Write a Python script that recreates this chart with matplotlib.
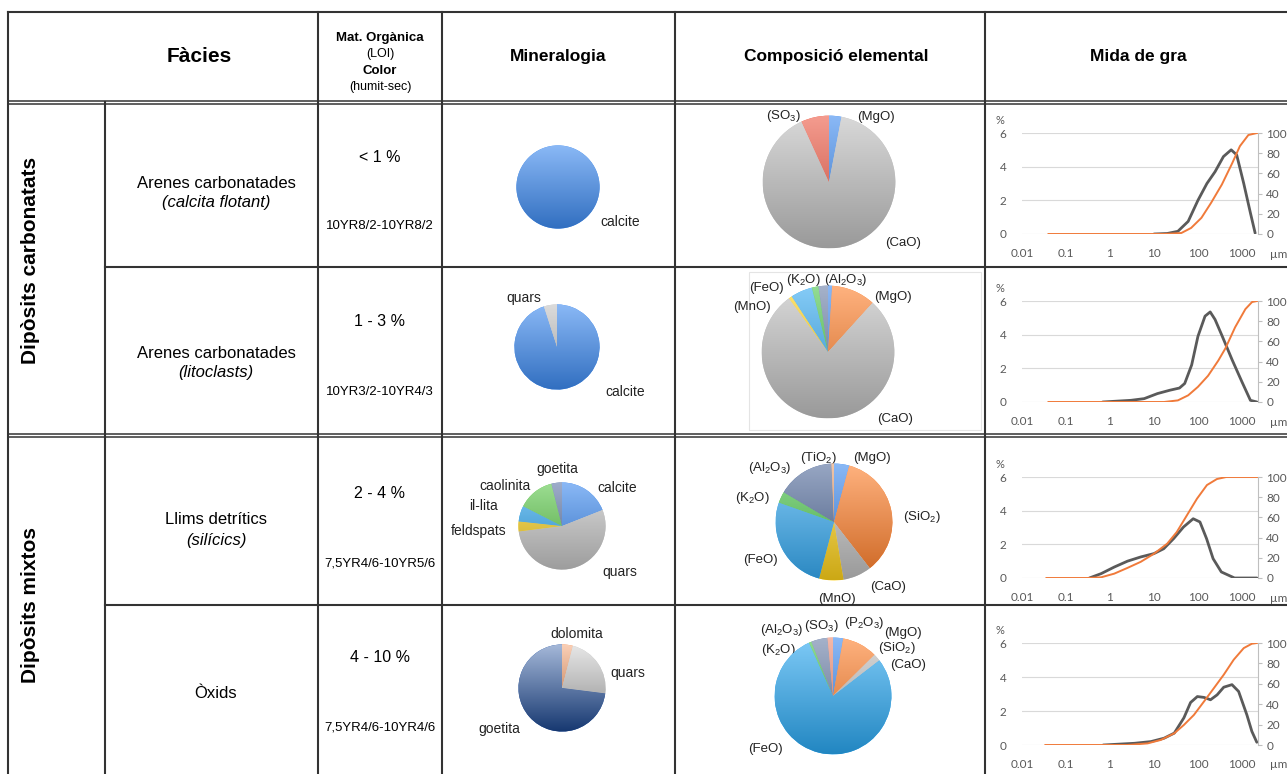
import numpy as np
import matplotlib
matplotlib.use('Agg')
import matplotlib.pyplot as plt
import matplotlib.colors as mcolors
from matplotlib.colors import LinearSegmentedColormap

plt.rcParams['font.family'] = ['Liberation Sans', 'DejaVu Sans']
plt.rcParams['mathtext.fontset'] = 'custom'
plt.rcParams['mathtext.rm'] = 'Liberation Sans'
plt.rcParams['mathtext.it'] = 'Liberation Sans:italic'

W, H = 1287, 774

# ---- table text
headers = ['Fàcies', 'Mineralogia', 'Composició elemental', 'Mida de gra']
groups = ['Dipòsits carbonatats', 'Dipòsits mixtos']
facies = ['Arenes carbonatades', 'Arenes carbonatades', 'Llims detrítics', 'Òxids']
facies_sub = ['(calcita flotant)', '(litoclasts)', '(silícics)', '']
loi = ['< 1 %', '1 - 3 %', '2 - 4 %', '4 - 10 %']
munsell = ['10YR8/2-10YR8/2', '10YR3/2-10YR4/3', '7,5YR4/6-10YR5/6', '7,5YR4/6-10YR4/6']

# ---- mineralogy (%), clockwise from 12 o'clock
min1_vals = [100]
min1_cols = ['#3d8af0']
min2_vals = [95, 5]
min2_cols = ['#3d8af0', '#c4c4c4']
min3_vals = [19, 54, 3.7, 5.8, 13.6, 3.9]   # calcite, quars, feldspats, il-lita, caolinita, goetita
min3_cols = ['#3d8af0', '#c4c4c4', '#f5cc1a', '#2fa6f0', '#5cc84a', '#5f77a8']
min4_vals = [4, 23, 73]                     # dolomita, quars, goetita
min4_cols = ['#f58a4b', '#c4c4c4', '#1f4fa0']

min1_labels = ['calcite']
min2_labels = ['quars', 'calcite']
min3_labels = ['calcite', 'quars', 'feldspats', 'il-lita', 'caolinita', 'goetita']
min4_labels = ['dolomita', 'quars', 'goetita']

# ---- elemental composition (%), clockwise from 12 o'clock
comp1_vals = [3, 90.2, 6.8]
comp1_cols = ['#3d8af0', '#c0c0c0', '#ee5a45']
comp2_vals = [1, 10.7, 78.3, 0.8, 5.3, 1.6, 2.3]
comp2_cols = ['#3d8af0', '#ff7f2a', '#c0c0c0', '#ffd21a', '#35aaf2', '#4cc64c', '#6a7fa8']
comp3_vals = [4.2, 35.3, 7.9, 6.7, 26.3, 3.1, 15.8, 0.7]
comp3_cols = ['#3d8af0', '#ff7f2a', '#c0c0c0', '#ffd21a', '#35aaf2', '#4cc64c', '#536c9c', '#e8a070']
comp4_vals = [2.8, 9.7, 2.0, 78.4, 0.7, 4.5, 1.5]
comp4_cols = ['#3d8af0', '#ff7f2a', '#c0c0c0', '#2aa8f2', '#4cc64c', '#6a7fa8', '#ee8a70']

comp1_labels = ['(MgO)', '(CaO)', '(SO$_3$)']
comp2_labels = ['(MgO)', '(CaO)', '(MnO)', '(FeO)', '(K$_2$O)', '(Al$_2$O$_3$)']
comp3_labels = ['(MgO)', '(SiO$_2$)', '(CaO)', '(MnO)', '(FeO)', '(K$_2$O)', '(Al$_2$O$_3$)', '(TiO$_2$)']
comp4_labels = ['(MgO)', '(SiO$_2$)', '(CaO)', '(FeO)', '(K$_2$O)', '(Al$_2$O$_3$)', '(SO$_3$)', '(P$_2$O$_3$)']

# ---- grain size: frequency (%) and cumulative (%)
gs1_fx = [10, 20, 35, 60, 100, 160, 245, 380, 570, 760, 1100, 1560, 2000]
gs1_f = [0, 0.03, 0.16, 0.75, 2.0, 3.0, 3.7, 4.6, 5.0, 4.7, 3.0, 1.25, 0.05]
gs1_cx = [0.04, 17, 42, 70, 120, 200, 350, 600, 900, 1400, 2200]
gs1_c = [0, 0, 1, 6, 16, 31, 49, 70, 87, 98, 100]

gs2_fx = [0.68, 3, 6, 12, 23, 38, 50, 72, 100, 145, 190, 245, 350, 600, 1000, 1560, 2200]
gs2_f = [0, 0.1, 0.2, 0.5, 0.7, 0.83, 1.1, 2.2, 3.9, 5.1, 5.35, 4.9, 3.96, 2.5, 1.2, 0.1, 0]
gs2_cx = [0.04, 17, 35, 60, 100, 170, 290, 420, 700, 1200, 1700, 2200]
gs2_c = [0, 0, 1.6, 6.6, 15, 26, 41, 53, 74, 92, 99, 100]

gs3_fx = [0.34, 0.63, 1.25, 2.5, 5, 10, 16.7, 28, 47, 78, 111, 157, 221, 340, 680, 2200]
gs3_f = [0, 0.26, 0.65, 1.0, 1.25, 1.45, 1.74, 2.34, 3.03, 3.52, 3.33, 2.34, 1.15, 0.36, 0, 0]
gs3_cx = [0.036, 0.31, 0.63, 1.25, 2.5, 5, 10, 20, 33, 56, 95, 160, 270, 440, 2200]
gs3_c = [0, 0, 0.7, 4.3, 10, 16, 24, 34, 45.5, 62, 78.5, 92, 98, 100, 100]

gs4_fx = [0.7, 3.6, 8.5, 17, 29, 48, 68, 97, 137, 193, 273, 386, 594, 841, 1297, 1683, 2180]
gs4_f = [0, 0.1, 0.2, 0.4, 0.7, 1.6, 2.5, 2.85, 2.8, 2.66, 2.95, 3.4, 3.55, 3.15, 1.77, 0.8, 0.16]
gs4_cx = [0.034, 2.5, 7.2, 14.4, 29, 48, 81, 137, 230, 386, 650, 1100, 1683, 2180]
gs4_c = [0, 0, 1.6, 5, 11.5, 19.7, 29.5, 42.6, 55.7, 68.9, 83.6, 95, 99.3, 100]

gs_ticks = [0.01, 0.1, 1, 10, 100, 1000]
gs_ticklabels = ['0.01', '0.1', '1', '10', '100', '1000']


fig = plt.figure(figsize=(W / 100, H / 100), dpi=100)
bg = fig.add_axes([0, 0, 1, 1])
bg.set_xlim(0, W)
bg.set_ylim(H, 0)
bg.axis('off')


def px_axes(x0, y0, x1, y1):
    return fig.add_axes([x0 / W, 1 - y1 / H, (x1 - x0) / W, (y1 - y0) / H])


# ---- grid of the table
line_c = '#333333'
bg.plot([8, W], [12, 12], color=line_c, lw=1.5)
for y in (100.5, 103.5, 433.5, 436.5):
    bg.plot([8, W], [y, y], color=line_c, lw=1.1)
for y in (267, 605):
    bg.plot([105, W], [y, y], color=line_c, lw=1.5)
bg.plot([8, 8], [12, H], color=line_c, lw=1.5)
bg.plot([105, 105], [102, H], color=line_c, lw=1.5)
for x in (318, 442, 675, 985):
    bg.plot([x, x], [12, H], color=line_c, lw=1.5)
bg.add_patch(plt.Rectangle((749, 272), 232, 158, fill=False, ec='#e4e4e4', lw=0.8))

# ---- header
bg.text(199, 57, headers[0], ha='center', va='center', fontsize=15, fontweight='bold')
bg.text(380, 38, 'Mat. Orgànica', ha='center', va='center', fontsize=9.5, fontweight='bold')
bg.text(380, 54, '(LOI)', ha='center', va='center', fontsize=9)
bg.text(380, 71, 'Color', ha='center', va='center', fontsize=9.5, fontweight='bold')
bg.text(380, 87, '(humit-sec)', ha='center', va='center', fontsize=9)
bg.text(558, 56, headers[1], ha='center', va='center', fontsize=12.5, fontweight='bold')
bg.text(836, 56, headers[2], ha='center', va='center', fontsize=12.5, fontweight='bold')
bg.text(1138, 56, headers[3], ha='center', va='center', fontsize=12.5, fontweight='bold')

# ---- left columns
bg.text(31, 260, groups[0], ha='center', va='center', rotation=90, fontsize=15, fontweight='bold')
bg.text(31, 605, groups[1], ha='center', va='center', rotation=90, fontsize=15, fontweight='bold')

facies_y = [193, 363, 530, 693]
loi_y = [158, 322, 493, 657]
mun_y = [226, 392, 563, 728]
for i in range(4):
    if facies_sub[i]:
        bg.text(216, facies_y[i] - 10, facies[i], ha='center', va='center', fontsize=12)
        bg.text(216, facies_y[i] + 10, facies_sub[i], ha='center', va='center', fontsize=12,
                style='italic')
    else:
        bg.text(216, facies_y[i], facies[i], ha='center', va='center', fontsize=12)
    bg.text(380, loi_y[i], loi[i], ha='center', va='center', fontsize=11.5)
    bg.text(380, mun_y[i], munsell[i], ha='center', va='center', fontsize=9.5)


# ---- pies with a top-light / bottom-dark shading
def pie(cx, cy, r, vals, cols, dark=0.8, light=0.4):
    ax = px_axes(cx - r, cy - r, cx + r, cy + r)
    wedges, _ = ax.pie(vals, colors=cols, startangle=90, counterclock=False,
                       radius=1, wedgeprops=dict(linewidth=0))
    grad = np.linspace(1, 0, 256).reshape(-1, 1)
    for w, c in zip(wedges, cols):
        rgb = np.array(mcolors.to_rgb(c))
        cmap = LinearSegmentedColormap.from_list('g', [rgb * dark, rgb + (1 - rgb) * light])
        im = ax.imshow(grad, extent=(-1, 1, -1, 1), cmap=cmap, aspect='auto',
                       interpolation='bilinear', zorder=2)
        im.set_clip_path(w)
    ax.set_xlim(-1.01, 1.01)
    ax.set_ylim(-1.01, 1.01)
    ax.axis('off')
    return ax


pie(558, 187, 42, min1_vals, min1_cols)
pie(557, 347, 43, min2_vals, min2_cols)
pie(562, 526, 44, min3_vals, min3_cols)
pie(562, 688, 44, min4_vals, min4_cols, dark=0.7, light=0.6)

pie(829, 182, 67, comp1_vals, comp1_cols)
pie(828, 352, 67, comp2_vals, comp2_cols)
pie(834, 522, 59, comp3_vals, comp3_cols)
pie(833, 696, 59, comp4_vals, comp4_cols)

# label positions (pixels)
min_pos = [
    [(620, 222)],
    [(524, 298), (625, 392)],
    [(617, 488), (620, 572), (479, 531), (483, 506), (505, 486), (557, 469)],
    [(577, 634), (628, 673), (499, 729)],
]
comp_pos = [
    [(876, 117), (903, 243), (783, 116)],
    [(893, 297), (895, 419), (752, 307), (766, 288), (803, 280), (846, 280)],
    [(872, 458), (922, 517), (888, 587), (837, 599), (760, 560), (752, 498), (770, 468), (818, 458)],
    [(903, 633), (897, 648), (908, 665), (765, 749), (778, 650), (782, 630), (821, 626), (864, 623)],
]
for labs, pos in zip([min1_labels, min2_labels, min3_labels, min4_labels], min_pos):
    for t, (x, y) in zip(labs, pos):
        bg.text(x, y, t, ha='center', va='center', fontsize=10, color='#222222')
for labs, pos in zip([comp1_labels, comp2_labels, comp3_labels, comp4_labels], comp_pos):
    for t, (x, y) in zip(labs, pos):
        bg.text(x, y, t, ha='center', va='center', fontsize=9.5, color='#222222')


# ---- grain size charts
tick_c = '#595959'


def grain(y6, y0, fx, f, cx, c):
    ax = px_axes(1022, y6, 1258, y0)
    ax.set_xscale('log')
    ax.set_xlim(0.01, 2320)
    ax.set_ylim(0, 6)
    ax.plot(fx, f, color='#5a5a5a', lw=2.0, solid_capstyle='round')
    ax.set_yticks([0, 2, 4, 6])
    ax.set_xticks(gs_ticks)
    ax.set_xticklabels(gs_ticklabels)
    ax.xaxis.set_minor_locator(matplotlib.ticker.NullLocator())
    ax.grid(axis='y', color='#d9d9d9', lw=0.8)
    ax.set_axisbelow(True)
    for s in ax.spines.values():
        s.set_visible(False)
    ax.tick_params(axis='both', length=0, labelsize=8.5, labelcolor=tick_c)
    ax.tick_params(axis='y', pad=11)
    ax.tick_params(axis='x', pad=10)
    for lab in ax.get_xticklabels() + ax.get_yticklabels():
        lab.set_family('Lato')
    ax2 = ax.twinx()
    ax2.set_ylim(0, 100)
    ax2.set_yticks([0, 20, 40, 60, 80, 100])
    ax2.plot(cx, c, color='#f07a3a', lw=1.4)
    for k in ('top', 'left', 'bottom'):
        ax2.spines[k].set_visible(False)
    ax2.spines['right'].set_color('#bfbfbf')
    ax2.tick_params(axis='y', length=3, color='#bfbfbf', labelsize=8.5, labelcolor=tick_c, pad=3)
    for lab in ax2.get_yticklabels():
        lab.set_family('Lato')
    bg.text(1000, y6 - 13, '%', ha='center', va='center', fontsize=8, color=tick_c, family='Lato')
    bg.text(1279, y0 + 20, 'µm', ha='center', va='center', fontsize=8.5, color=tick_c, family='Lato')


grain(133, 234, gs1_fx, gs1_f, gs1_cx, gs1_c)
grain(301, 402, gs2_fx, gs2_f, gs2_cx, gs2_c)
grain(477, 578, gs3_fx, gs3_f, gs3_cx, gs3_c)
grain(643, 745, gs4_fx, gs4_f, gs4_cx, gs4_c)

fig.savefig('out.png', dpi=100)
